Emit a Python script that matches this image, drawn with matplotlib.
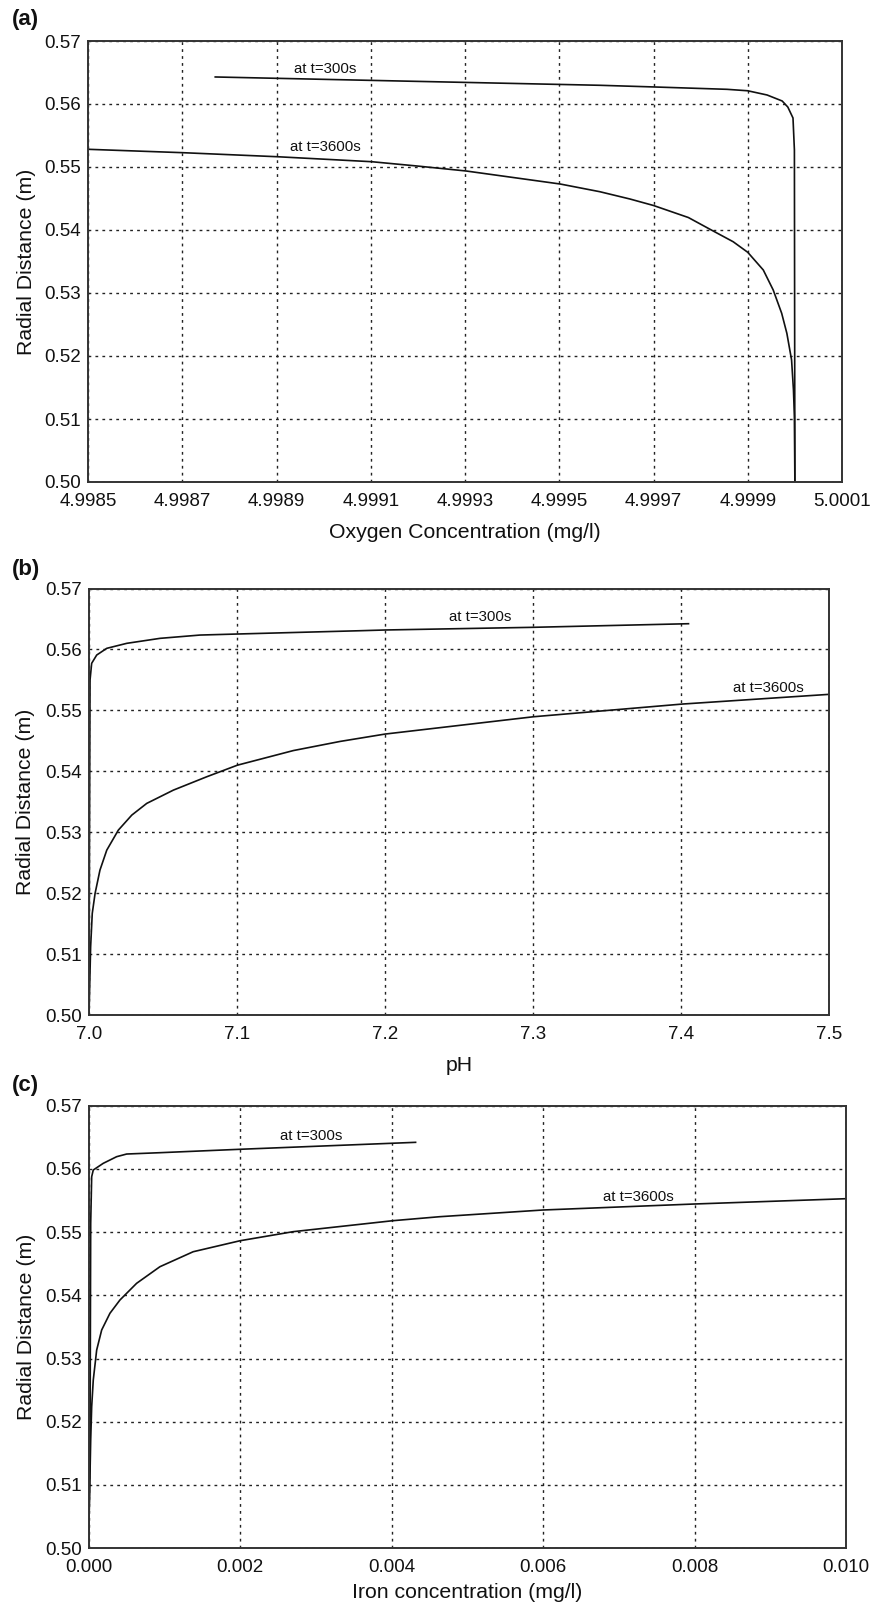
import matplotlib
matplotlib.use("Agg")
import matplotlib.pyplot as plt
from matplotlib.ticker import FormatStrFormatter

plt.rcParams['font.family'] = ['Liberation Sans', 'DejaVu Sans']

# (a) oxygen concentration vs radial distance
oxy_300_x = [4.998770, 4.999162, 4.999586, 4.999699, 4.999856, 4.999900,
             4.999941, 4.999973, 4.999985, 4.999996, 4.999999, 5.000000]
oxy_300_y = [0.56429, 0.56365, 0.56297, 0.56271, 0.56233, 0.56210,
             0.56143, 0.56048, 0.55952, 0.55778, 0.55270, 0.50000]
oxy_3600_x = [4.998500, 4.998702, 4.998902, 4.999102, 4.999198, 4.999302, 4.999502,
              4.999586, 4.999650, 4.999700, 4.999774, 4.999820, 4.999869, 4.999900,
              4.999933, 4.999954, 4.999972, 4.999983, 4.999993, 4.999997, 4.999999,
              5.000000]
oxy_3600_y = [0.55281, 0.55227, 0.55163, 0.55084, 0.55016, 0.54937, 0.54730,
              0.54608, 0.54492, 0.54389, 0.54198, 0.54011, 0.53814, 0.53646,
              0.53365, 0.53048, 0.52678, 0.52360, 0.51937, 0.51460, 0.51037,
              0.50000]

# (b) pH vs radial distance
ph_300_x = [7.0000, 7.0003, 7.0007, 7.0018, 7.0052, 7.0120, 7.0255, 7.0480,
            7.0750, 7.1002, 7.1831, 7.2000, 7.3002, 7.4049]
ph_300_y = [0.50000, 0.52700, 0.55498, 0.55772, 0.55908, 0.56018, 0.56100, 0.56182,
            0.56236, 0.56253, 0.56307, 0.56319, 0.56363, 0.56422]
ph_3600_x = [7.0000, 7.0011, 7.0022, 7.0041, 7.0074, 7.0120, 7.0198, 7.0289,
             7.0390, 7.0570, 7.0795, 7.1002, 7.1380, 7.1696, 7.2000, 7.3002,
             7.4005, 7.5000]
ph_3600_y = [0.50000, 0.51118, 0.51667, 0.51995, 0.52378, 0.52706, 0.53034, 0.53281,
             0.53473, 0.53691, 0.53910, 0.54100, 0.54340, 0.54490, 0.54611, 0.54895,
             0.55103, 0.55263]

# (c) iron concentration vs radial distance
fe_300_x = [0.0, 0.0000198, 0.000029, 0.000042, 0.000063, 0.000195, 0.000372,
            0.000504, 0.000943, 0.002001, 0.004318]
fe_300_y = [0.50000, 0.51448, 0.55141, 0.55878, 0.55984, 0.56090, 0.56195,
            0.56237, 0.56258, 0.56312, 0.56422]
fe_3600_x = [0.0, 0.000029, 0.000042, 0.000063, 0.000108, 0.000174, 0.000283,
             0.000415, 0.000635, 0.000943, 0.001382, 0.002001, 0.002700,
             0.004018, 0.004634, 0.005996, 0.007996, 0.010000]
fe_3600_y = [0.50000, 0.51712, 0.52239, 0.52661, 0.53136, 0.53453, 0.53717,
             0.53927, 0.54191, 0.54454, 0.54691, 0.54865, 0.55008, 0.55182,
             0.55245, 0.55351, 0.55446, 0.55530]

y_ticks = [0.50, 0.51, 0.52, 0.53, 0.54, 0.55, 0.56, 0.57]
oxy_ticks = [4.9985, 4.9987, 4.9989, 4.9991, 4.9993, 4.9995, 4.9997, 4.9999, 5.0001]
ph_ticks = [7.0, 7.1, 7.2, 7.3, 7.4, 7.5]
fe_ticks = [0.000, 0.002, 0.004, 0.006, 0.008, 0.010]

W, H = 872, 1605
fig = plt.figure(figsize=(W / 100, H / 100), dpi=100)


def px_axes(left, top, right, bottom):
    return fig.add_axes([left / W, 1 - bottom / H, (right - left) / W, (bottom - top) / H])


def style(ax, xticks, xfmt, xlabel, label_x, xpad):
    ax.set_xlim(xticks[0], xticks[-1])
    ax.set_ylim(0.50, 0.57)
    ax.set_xticks(xticks)
    ax.set_yticks(y_ticks)
    ax.xaxis.set_major_formatter(FormatStrFormatter(xfmt))
    ax.yaxis.set_major_formatter(FormatStrFormatter('%.2f'))
    ax.grid(True, linestyle=(0, (2, 3)), color='#222222', linewidth=1.0)
    ax.tick_params(axis='both', length=0, labelsize=13.5, colors='#111111')
    ax.tick_params(axis='x', pad=8)
    ax.tick_params(axis='y', pad=5)
    for s in ax.spines.values():
        s.set_color('#333333')
        s.set_linewidth(1.4)
    ax.set_ylabel('Radial Distance (m)', fontsize=15.3, color='#111111')
    ax.yaxis.set_label_coords(label_x, 0.5)
    ax.set_xlabel(xlabel, fontsize=15.3, color='#111111', labelpad=xpad)


line_kw = dict(color='#111111', linewidth=1.2)
text_kw = dict(fontsize=10.8, ha='center', va='center', color='#111111')

# panel (a)
ax1 = px_axes(88, 41, 842, 482)
ax1.plot(oxy_300_x, oxy_300_y, **line_kw)
ax1.plot(oxy_3600_x, oxy_3600_y, **line_kw)
ax1.text(4.999003, 0.56551, 'at t=300s', **text_kw)
ax1.text(4.999003, 0.55313, 'at t=3600s', **text_kw)
style(ax1, oxy_ticks, '%.4f', 'Oxygen Concentration (mg/l)', -0.0695, 9)

# panel (b)
ax2 = px_axes(89, 588.5, 829.3, 1015)
ax2.plot(ph_300_x, ph_300_y, **line_kw)
ax2.plot(ph_3600_x, ph_3600_y, **line_kw)
ax2.text(7.2642, 0.56527, 'at t=300s', **text_kw)
ax2.text(7.4590, 0.55361, 'at t=3600s', **text_kw)
style(ax2, ph_ticks, '%.1f', 'pH', -0.0723, 9)

# panel (c)
ax3 = px_axes(88.5, 1105.8, 846, 1548.2)
ax3.plot(fe_300_x, fe_300_y, **line_kw)
ax3.plot(fe_3600_x, fe_3600_y, **line_kw)
ax3.text(0.002943, 0.56522, 'at t=300s', **text_kw)
ax3.text(0.007258, 0.55562, 'at t=3600s', **text_kw)
style(ax3, fe_ticks, '%.3f', 'Iron concentration (mg/l)', -0.0695, 5)

# panel letters
for label, ypx in [('(a)', 20), ('(b)', 570), ('(c)', 1086)]:
    fig.text(12 / W, 1 - ypx / H, label, fontsize=16, fontweight='bold',
             ha='left', va='center', color='#111111')

fig.savefig('out.png', dpi=100)
